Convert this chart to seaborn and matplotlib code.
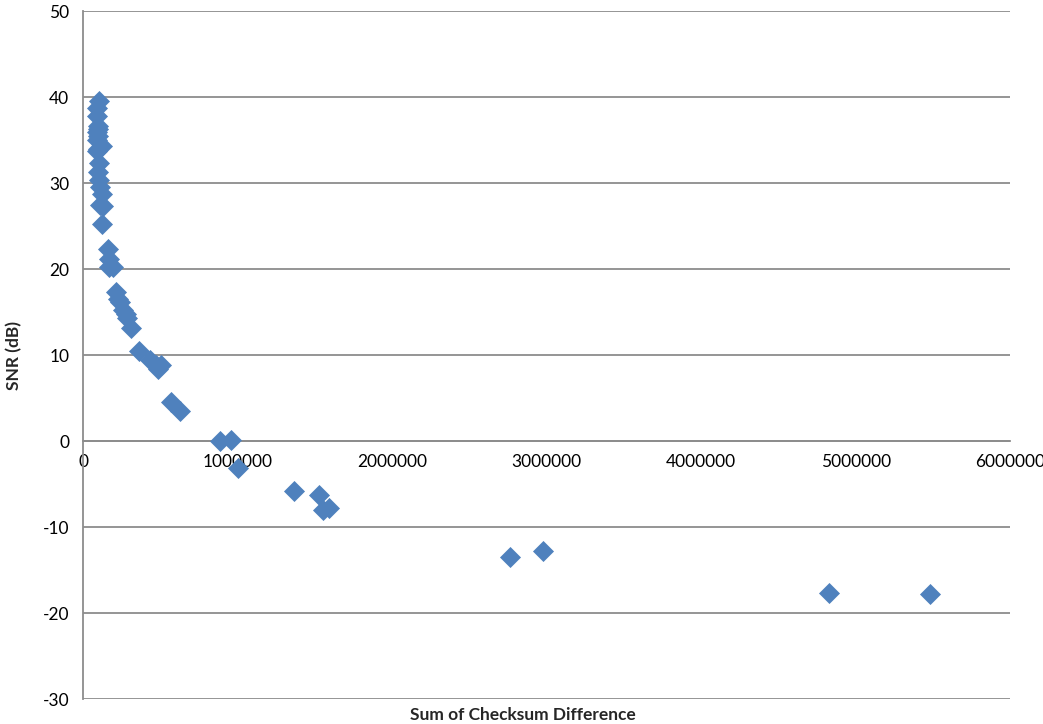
import matplotlib
matplotlib.use("Agg")
import matplotlib.pyplot as plt
import seaborn as sns
import pandas as pd

# checksum difference vs SNR
checksum_diff = [
    105000, 92000, 90000, 98000, 95000, 88000, 100000, 92000, 96000, 125000,
    92000, 105000, 100000, 104000, 108000, 120000, 110000, 128000, 125000,
    160000, 170000, 165000, 195000,
    215000, 225000, 240000, 260000, 280000, 285000, 310000,
    365000, 435000, 470000, 485000, 505000, 570000, 625000,
    885000, 960000, 1000000, 1365000, 1525000, 1550000, 1590000,
    2765000, 2975000, 4830000, 5480000,
]
snr_db = [
    39.5, 38.7, 37.8, 36.7, 36.3, 36.0, 35.5, 35.0, 34.0, 34.3,
    33.8, 32.4, 31.3, 30.4, 29.6, 28.7, 27.5, 27.3, 25.3,
    22.4, 21.2, 20.3, 20.3,
    17.4, 16.5, 16.2, 15.3, 14.8, 14.3, 13.2,
    10.5, 9.4, 8.9, 8.4, 8.8, 4.6, 3.5,
    0.0, 0.1, -3.1, -5.8, -6.3, -8.0, -7.8,
    -13.5, -12.8, -17.7, -17.8,
]
x_ticks = [0, 1000000, 2000000, 3000000, 4000000, 5000000, 6000000]
y_ticks = [-30, -20, -10, 0, 10, 20, 30, 40, 50]

df = pd.DataFrame({"Sum of Checksum Difference": checksum_diff, "SNR (dB)": snr_db})

sns.set_style("white")
plt.rcParams["font.family"] = ["Lato", "DejaVu Sans"]

fig = plt.figure(figsize=(10.43, 7.24), dpi=100)
ax = fig.add_axes([0.0796, 0.0345, 0.889, 0.950])

ax.set_xlim(0, 6000000)
ax.set_ylim(-30, 50)
ax.set_xticks(x_ticks)
ax.set_yticks(y_ticks)
ax.set_xticklabels([str(v) for v in x_ticks])
ax.set_yticklabels([str(v) for v in y_ticks])

# horizontal gridlines like the Excel chart
ax.grid(axis="y", color="#8c8c8c", linewidth=1.3)
ax.grid(axis="x", visible=False)
ax.set_axisbelow(True)

sns.scatterplot(data=df, x="Sum of Checksum Difference", y="SNR (dB)", ax=ax,
                marker="D", s=115, color="#4f81bd", edgecolor="#4f81bd",
                linewidth=0, zorder=3)

# axes cross at zero
for side in ["top", "right"]:
    ax.spines[side].set_visible(False)
ax.spines["bottom"].set_position(("data", 0))
ax.spines["bottom"].set_color("#8c8c8c")
ax.spines["left"].set_color("#8c8c8c")
ax.spines["bottom"].set_linewidth(1.3)
ax.spines["left"].set_linewidth(1.3)

ax.tick_params(axis="both", labelsize=12.5, colors="#8c8c8c", labelcolor="black",
               length=6, width=1.3, direction="out")
ax.tick_params(axis="x", pad=3)
ax.tick_params(axis="y", pad=4)

ax.set_xlabel("Sum of Checksum Difference", fontsize=12.5, fontweight="bold")
ax.set_ylabel("SNR (dB)", fontsize=12.5, fontweight="bold")
ax.xaxis.set_label_coords(0.474, -0.011)
ax.yaxis.set_label_coords(-0.066, 0.5)

fig.savefig("out.png", dpi=100)
